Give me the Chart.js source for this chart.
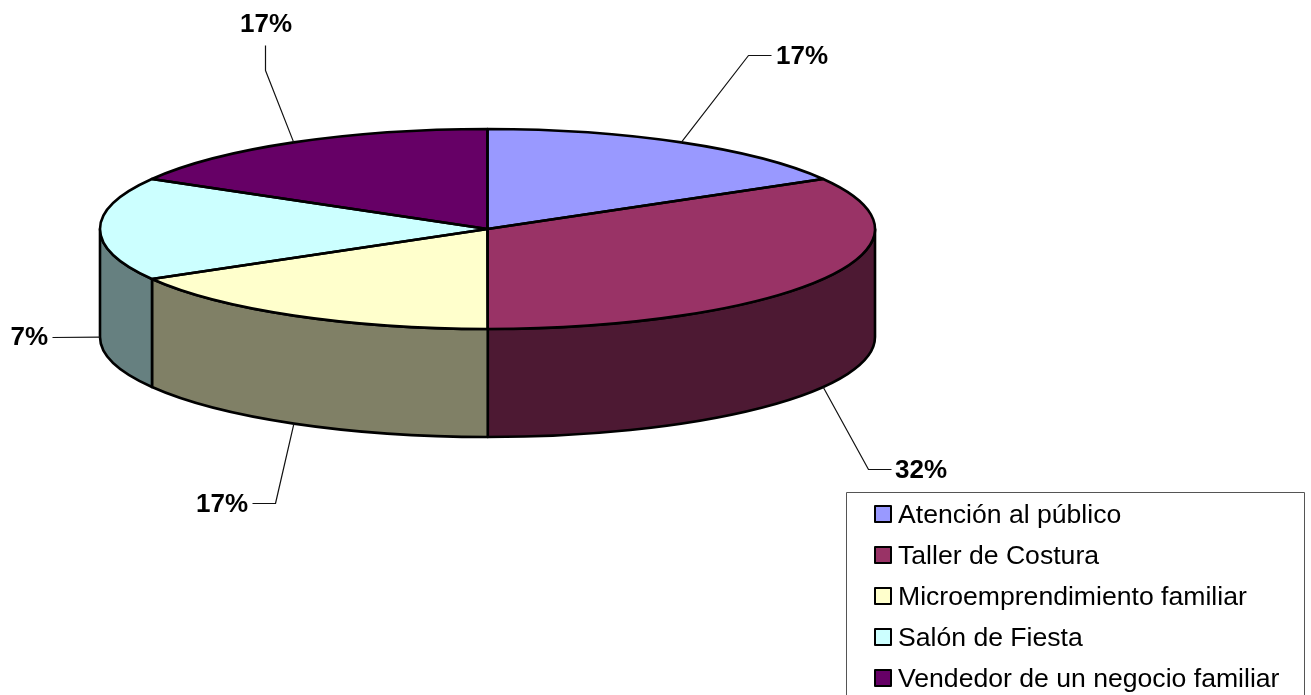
<!DOCTYPE html>
<html>
<head>
<meta charset="utf-8">
<style>
  html, body { margin: 0; padding: 0; background: #fff; overflow: hidden; }
  canvas { display: block; }
</style>
<script src="https://cdn.jsdelivr.net/npm/chart.js@4/dist/chart.umd.min.js"></script>
</head>
<body>
<canvas id="pie3d" width="1311" height="695"></canvas>
<script>
var categories = ['Atención al público', 'Taller de Costura', 'Microemprendimiento familiar', 'Salón de Fiesta', 'Vendedor de un negocio familiar'];
var sliceValues = [16.67, 33.32, 16.67, 16.67, 16.67];
var pctLabels = ['17%', '32%', '17%', '7%', '17%'];
var colors = ['#9999FF', '#993366', '#FFFFCC', '#CCFFFF', '#660066'];
var sideColors = ['#4D4D80', '#4D1933', '#808066', '#668080', '#330033'];

// leader elbow + end, then where the label text sits
var leaders = [
    { elbow: [748, 55], end: [771, 55], text: [776, 64], align: 'left' },
    { elbow: [868, 469], end: [891, 469], text: [895, 478], align: 'left' },
    { elbow: [275, 503], end: [252, 503], text: [248, 512], align: 'right' },
    { elbow: null, end: [52, 337], text: [48, 345], align: 'right' },
    { elbow: [265, 70], end: [265, 45], text: [266, 32], align: 'center' }
];

var RX = 387.5, RY = 100, DEPTH = 108;

var pie3d = {
    id: 'pie3d',
    beforeDatasetsDraw: function (chart) {
        var ctx = chart.ctx;
        var arcs = chart.getDatasetMeta(0).data;
        var cx = arcs[0].x, cy = arcs[0].y;

        // side wall, only the front half of the disc shows
        ctx.save();
        ctx.lineWidth = 2.6;
        ctx.strokeStyle = '#000';
        ctx.lineJoin = 'round';
        arcs.forEach(function (arc, i) {
            var a = Math.max(arc.startAngle, 0);
            var b = Math.min(arc.endAngle, Math.PI);
            if (b <= a) return;
            ctx.beginPath();
            ctx.ellipse(cx, cy, RX, RY, 0, a, b);
            ctx.ellipse(cx, cy + DEPTH, RX, RY, 0, b, a, true);
            ctx.closePath();
            ctx.fillStyle = sideColors[i];
            ctx.fill();
            ctx.stroke();
        });
        ctx.restore();

        // squash the pie the library draws into the top ellipse
        var r = arcs[0].outerRadius;
        ctx.save();
        ctx.translate(cx, cy);
        ctx.scale(RX / r, RY / r);
        ctx.translate(-cx, -cy);
    },
    afterDatasetsDraw: function (chart) {
        var ctx = chart.ctx;
        ctx.restore();

        var arcs = chart.getDatasetMeta(0).data;
        var cx = arcs[0].x, cy = arcs[0].y;

        ctx.save();
        // slice outlines
        ctx.lineWidth = 2.6;
        ctx.strokeStyle = '#000';
        ctx.lineJoin = 'round';
        arcs.forEach(function (arc) {
            ctx.beginPath();
            ctx.moveTo(cx, cy);
            ctx.ellipse(cx, cy, RX, RY, 0, arc.startAngle, arc.endAngle);
            ctx.closePath();
            ctx.stroke();
        });

        // leader lines and percentages
        ctx.fillStyle = '#000';
        ctx.font = 'bold 26px "Liberation Sans", Arial, sans-serif';
        ctx.textBaseline = 'alphabetic';
        arcs.forEach(function (arc, i) {
            var mid = (arc.startAngle + arc.endAngle) / 2;
            var sx = cx + RX * Math.cos(mid);
            var sy = cy + RY * Math.sin(mid);
            if (Math.sin(mid) > -0.01) sy += DEPTH;
            var l = leaders[i];
            ctx.lineWidth = 1.2;
            ctx.strokeStyle = '#111';
            ctx.beginPath();
            ctx.moveTo(sx, sy);
            if (l.elbow) ctx.lineTo(l.elbow[0] + 0.5, l.elbow[1] + 0.5);
            ctx.lineTo(l.end[0] + 0.5, l.end[1] + 0.5);
            ctx.stroke();
            ctx.textAlign = l.align;
            ctx.fillText(pctLabels[i], l.text[0], l.text[1]);
        });

        // legend box runs off the bottom of the picture
        ctx.lineWidth = 1;
        ctx.strokeStyle = '#555';
        ctx.strokeRect(846.5, 492.5, 458, 210);
        ctx.font = '26.6px "Liberation Sans", Arial, sans-serif';
        ctx.textAlign = 'left';
        categories.forEach(function (name, i) {
            var base = 523 + i * 41;
            ctx.fillStyle = colors[i];
            ctx.fillRect(875, base - 17, 16, 16);
            ctx.lineWidth = 2;
            ctx.strokeStyle = '#000';
            ctx.strokeRect(875, base - 17, 16, 16);
            ctx.fillStyle = '#000';
            ctx.fillText(name, 898, base);
        });
        ctx.restore();
    }
};

new Chart(document.getElementById('pie3d').getContext('2d'), {
    type: 'pie',
    data: {
        labels: categories,
        datasets: [{
            data: sliceValues,
            backgroundColor: colors,
            borderWidth: 0,
            clip: false
        }]
    },
    options: {
        responsive: false,
        animation: false,
        layout: { padding: { left: 0, top: 0, right: 336, bottom: 237 } },
        plugins: {
            legend: { display: false },
            tooltip: { enabled: false }
        }
    },
    plugins: [pie3d]
});
</script>
</body>
</html>
